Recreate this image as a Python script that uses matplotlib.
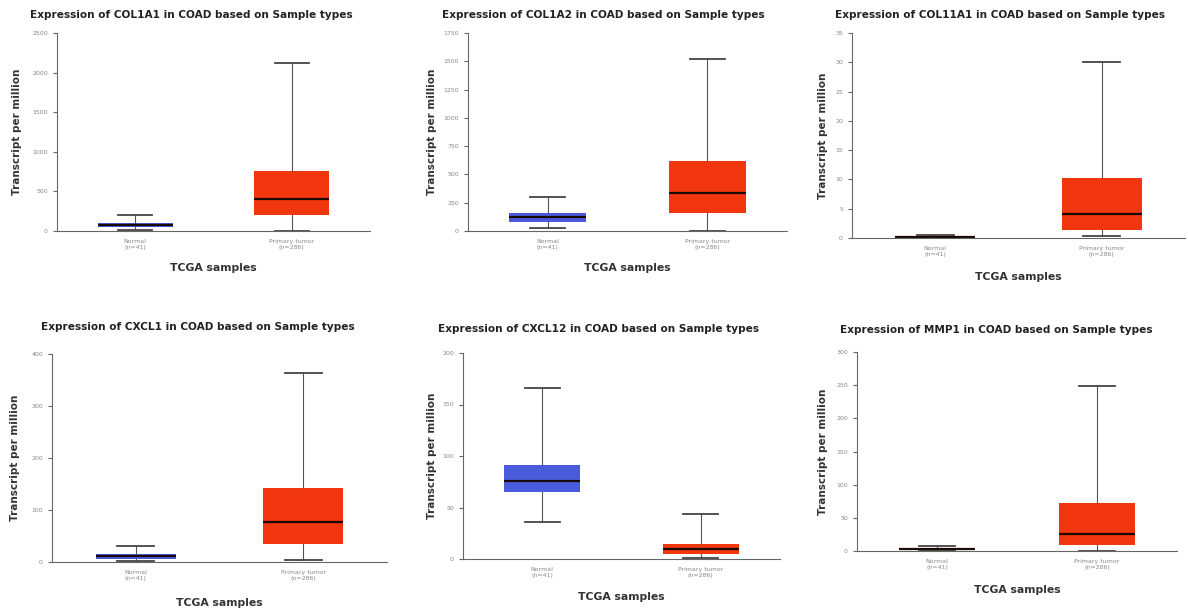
#
# boxplots of gene expression in COAD, normal vs primary tumor
#

import numpy as np
import matplotlib
matplotlib.use("Agg")
import matplotlib.pyplot as plt

genes = ["COL1A1", "COL1A2", "COL11A1", "CXCL1", "CXCL12", "MMP1"]
groups = ["Normal\n(n=41)", "Primary tumor\n(n=286)"]

# whislo, q1, median, q3, whishi
normal_stats = [
    [12, 47, 76, 105, 202],
    [29, 82, 121, 162, 303],
    [0.0, 0.05, 0.1, 0.2, 0.45],
    [1, 6, 11, 15, 30],
    [36, 65, 76, 91, 166],
    [0.2, 1, 2.5, 4, 7],
]
tumor_stats = [
    [3, 202, 404, 758, 2121],
    [2, 156, 338, 621, 1517],
    [0.3, 1.3, 4.1, 10.2, 30],
    [4.4, 34.6, 76, 142, 363],
    [1, 5, 9.7, 14.6, 43.3],
    [0.5, 9.7, 26.3, 72, 249],
]
ymax = [2500, 1750, 35, 400, 200, 300]
ystep = [500, 250, 5, 100, 50, 50]

W, H = 1188, 609
fig = plt.figure(figsize=(W / 100, H / 100), dpi=100)

# axes boxes in pixels: left, right, top, bottom
boxes = [(57, 370, 33, 231), (468, 787, 33, 231), (852, 1185, 33, 238),
         (52, 387, 354, 562), (463, 780, 353, 559), (857, 1177, 352, 551)]
title_pos = [(191, 15), (603, 15), (1000, 15), (198, 327), (599, 329), (996, 330)]
xlab_y = [268, 268, 277, 603, 597, 590]
ylab_x = [17, 432, 823, 15, 432, 823]

blue = "#4a5bdb"
red = "#f2360e"

def to_stats(s, label):
    return {"whislo": s[0], "q1": s[1], "med": s[2], "q3": s[3], "whishi": s[4],
            "label": label, "fliers": []}

for i, gene in enumerate(genes):
    l, r, t, b = boxes[i]
    ax = fig.add_axes([l / W, 1 - b / H, (r - l) / W, (b - t) / H])
    stats = [to_stats(normal_stats[i], groups[0]), to_stats(tumor_stats[i], groups[1])]
    bp = ax.bxp(stats, positions=[1, 2], widths=0.48, patch_artist=True,
                showfliers=False, capwidths=0.22,
                boxprops=dict(linewidth=0),
                whiskerprops=dict(color="#555555", linewidth=0.8),
                capprops=dict(color="#444444", linewidth=1.3),
                medianprops=dict(color="#1a0a05", linewidth=1.6))
    bp["boxes"][0].set_facecolor(blue)
    bp["boxes"][1].set_facecolor(red)

    ax.set_xlim(0.5, 2.5)
    ax.set_ylim(0, ymax[i])
    ax.set_yticks(np.arange(0, ymax[i] + ystep[i] / 2, ystep[i]))
    ax.spines["top"].set_visible(False)
    ax.spines["right"].set_visible(False)
    ax.spines["left"].set_color("#666666")
    ax.spines["bottom"].set_color("#666666")
    ax.tick_params(axis="y", labelsize=4.5, labelcolor="#888888", color="#666666", length=3, width=0.8)
    ax.tick_params(axis="x", labelsize=4.5, labelcolor="#888888", length=0, pad=6)

    cx, ty = title_pos[i]
    fig.text(cx / W, 1 - ty / H, "Expression of " + gene + " in COAD based on Sample types",
             ha="center", va="center", fontsize=7.6, fontweight="bold", color="#222222")
    fig.text((l + r) / 2 / W, 1 - xlab_y[i] / H, "TCGA samples",
             ha="center", va="center", fontsize=7.8, fontweight="bold", color="#333333")
    fig.text(ylab_x[i] / W, 1 - (t + b) / 2 / H, "Transcript per million",
             ha="center", va="center", rotation=90, fontsize=7.5, fontweight="bold", color="#333333")

fig.savefig("out.png", dpi=100)
